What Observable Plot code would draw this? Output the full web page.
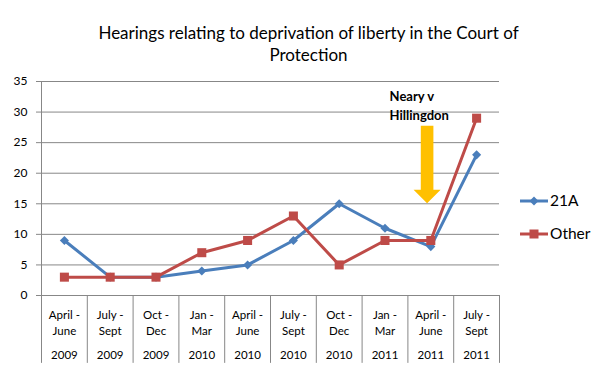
<!DOCTYPE html>
<html>
<head>
<meta charset="utf-8">
<script src="https://cdn.jsdelivr.net/npm/d3@7"></script>
<script src="https://cdn.jsdelivr.net/npm/@observablehq/plot@0.6"></script>
<style>
  html, body { margin: 0; padding: 0; background: #fff; }
  #chart svg { display: block; }
</style>
</head>
<body>
<div id="chart"></div>
<script>
const quarters = ["April -\nJune", "July -\nSept", "Oct -\nDec", "Jan -\nMar", "April -\nJune", "July -\nSept", "Oct -\nDec", "Jan -\nMar", "April -\nJune", "July -\nSept"];
const years = ["2009", "2009", "2009", "2010", "2010", "2010", "2010", "2011", "2011", "2011"];
const series21A = [9, 3, 3, 4, 5, 9, 15, 11, 8, 23];
const seriesOther = [3, 3, 3, 7, 9, 13, 5, 9, 9, 29];
const seriesNames = ["21A", "Other"];
const yTicks = [0, 5, 10, 15, 20, 25, 30, 35];
const titleText = "Hearings relating to deprivation of liberty in the Court of\nProtection";
const annotationText = "Neary v\nHillingdon";
// annotation arrow: category position, top value, head-base value, tip value
const arrowX = [8.43];
const arrowY = [27.7, 17.2, 15];
const annotationPos = [7.6, 31.2];

const colors = {"21A": "#4A7EBB", "Other": "#BE4B48"};
const gridColor = "#878787";
const font = "Lato, 'Noto Sans', sans-serif";

const rows = [];
quarters.forEach((q, i) => {
  rows.push({series: "21A", idx: i + 0.5, value: series21A[i]});
  rows.push({series: "Other", idx: i + 0.5, value: seriesOther[i]});
});
const rowsA = rows.filter(d => d.series === "21A");
const rowsO = rows.filter(d => d.series === "Other");
const cats = quarters.map((q, i) => ({q, year: years[i], idx: i + 0.5}));
const bounds = d3.range(quarters.length + 1);

function arrowMark(index, scales, values, dims) {
  const x = scales.x(arrowX[0]);
  const yTop = scales.y(arrowY[0]);
  const yBase = scales.y(arrowY[1]);
  const yTip = scales.y(arrowY[2]);
  const sw = 6.3, hw = 13.5;
  const pts = [[x - sw, yTop], [x + sw, yTop], [x + sw, yBase], [x + hw, yBase], [x, yTip], [x - hw, yBase], [x - sw, yBase]];
  const g = d3.create("svg:g");
  g.append("polygon").attr("points", pts.map(p => p.join(",")).join(" ")).attr("fill", "#FFC000");
  return g.node();
}

function legendMark(index, scales, values, dims) {
  const g = d3.create("svg:g");
  const x0 = dims.width - dims.marginRight + 21;
  const ys = [201, 234];
  seriesNames.forEach((name, i) => {
    const y = ys[i];
    const c = colors[name];
    g.append("line").attr("x1", x0).attr("x2", x0 + 28).attr("y1", y).attr("y2", y)
      .attr("stroke", c).attr("stroke-width", 3);
    if (name === "21A") {
      g.append("path").attr("d", `M${x0 + 14},${y - 4.5}L${x0 + 18.5},${y}L${x0 + 14},${y + 4.5}L${x0 + 9.5},${y}Z`).attr("fill", c);
    } else {
      g.append("rect").attr("x", x0 + 9.5).attr("y", y - 4.5).attr("width", 9).attr("height", 9).attr("fill", c);
    }
    g.append("text").attr("x", x0 + 30).attr("y", y).attr("dy", "0.35em")
      .attr("text-anchor", "start")
      .attr("font-size", 15.5).attr("font-family", font).attr("fill", "#000").text(name);
  });
  return g.node();
}

const chart = Plot.plot({
  width: 606,
  height: 389,
  marginLeft: 41,
  marginRight: 107,
  marginTop: 81,
  marginBottom: 94,
  style: {fontFamily: font, background: "#fff"},
  x: {domain: [0, quarters.length], axis: null},
  y: {domain: [0, 35], axis: null},
  marks: [
    Plot.ruleY(yTicks, {x1: 0, x2: quarters.length, stroke: gridColor, strokeWidth: 1}),
    Plot.ruleX(bounds, {y1: d => d === 0 ? 35 : 0, y2: -11.1, stroke: gridColor, strokeWidth: 1}),
    Plot.axisY({ticks: yTicks, tickSize: 5, tickPadding: 9, stroke: gridColor, fontSize: 12, fill: "#000", label: null, tickFormat: d => d}),
    Plot.text(cats, {x: "idx", y: 0, text: "q", dy: 26, lineHeight: 1.42, fontSize: 11.5, fill: "#000"}),
    Plot.text(cats, {x: "idx", y: 0, text: "year", dy: 60, fontSize: 11.5, fill: "#000"}),
    Plot.line(rowsA, {x: "idx", y: "value", stroke: colors["21A"], strokeWidth: 3}),
    Plot.dot(rowsA, {x: "idx", y: "value", symbol: "diamond2", r: 4.1, fill: colors["21A"], stroke: "none"}),
    Plot.line(rowsO, {x: "idx", y: "value", stroke: colors["Other"], strokeWidth: 3}),
    Plot.dot(rowsO, {x: "idx", y: "value", symbol: "square", r: 5.1, fill: colors["Other"], stroke: "none"}),
    arrowMark,
    Plot.text([annotationText], {x: annotationPos[0], y: annotationPos[1], text: d => d, textAnchor: "start", lineHeight: 1.4, fontSize: 13, fontWeight: "bold", fill: "#000"}),
    Plot.text([titleText], {frameAnchor: "top", lineAnchor: "middle", text: d => d, dx: 38, dy: -39, lineHeight: 1.3, fontSize: 17, fill: "#000"}),
    legendMark
  ]
});
document.getElementById("chart").appendChild(chart);
</script>
</body>
</html>
